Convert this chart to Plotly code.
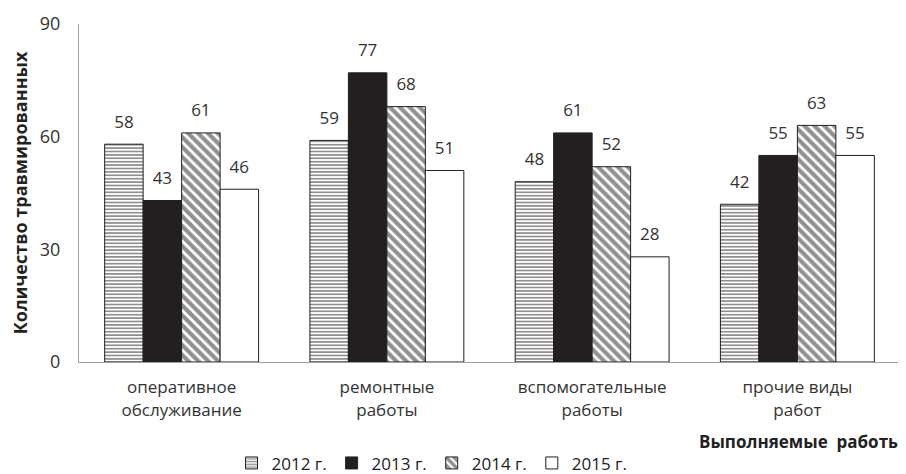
import plotly.graph_objects as go

categories = ["оперативное<br>обслуживание", "ремонтные<br>работы", "вспомогательные<br>работы", "прочие виды<br>работ"]
years = ["2012 г.", "2013 г.", "2014 г.", "2015 г."]
v2012 = [58, 59, 48, 42]
v2013 = [43, 77, 61, 55]
v2014 = [61, 68, 52, 63]
v2015 = [46, 51, 28, 55]

dark = "#231f20"
font = "Open Sans"
styles = [
    dict(color="white", pattern=dict(shape="-", fgcolor=dark, bgcolor="white", size=3.4, solidity=0.5)),
    dict(color=dark),
    dict(color="white", pattern=dict(shape="\\", fgcolor=dark, bgcolor="white", size=7, solidity=0.6)),
    dict(color="white"),
]

fig = go.Figure()
for i, (name, vals, st) in enumerate(zip(years, [v2012, v2013, v2014, v2015], styles)):
    marker = dict(color=st["color"], line=dict(color=dark, width=1))
    if "pattern" in st:
        marker["pattern"] = st["pattern"]
    fig.add_trace(go.Bar(
        x=categories, y=vals, name=name, marker=marker, offsetgroup=str(i),
    ))
for i, vals in enumerate([v2012, v2013, v2014, v2015]):
    fig.add_trace(go.Scatter(
        x=categories, y=vals, mode="markers+text", text=[str(v) for v in vals],
        textposition="top center", offsetgroup=str(i), showlegend=False, hoverinfo="skip",
        marker=dict(size=18, opacity=0),
        textfont=dict(family=font, size=17, color="#333333"), cliponaxis=False,
    ))

# page body adds an 8px margin, so the figure is sized/offset to compensate
fig.update_layout(
    width=898, height=466,
    margin=dict(l=71, r=6, t=16, b=112, autoexpand=False),
    paper_bgcolor="white", plot_bgcolor="white",
    barmode="group", bargap=0.25, bargroupgap=0,
    scattermode="group", scattergap=0.25,
    font=dict(family=font, size=16, color="#333333"),
    showlegend=True,
    legend=dict(orientation="h", x=0.43, xanchor="center", y=-0.30, yanchor="middle",
                font=dict(family=font, size=17, color="#222222"), itemwidth=30,
                tracegroupgap=0),
    annotations=[dict(text="<b>Выполняемые  работы</b>", xref="paper", yref="paper",
                      x=1.006, y=-0.234, xanchor="right", yanchor="middle", showarrow=False,
                      font=dict(family=font, size=17, color="#222222"))],
)
fig.update_yaxes(range=[0, 90], tickvals=[0, 30, 60, 90], showgrid=False, zeroline=False,
                 showline=True, linecolor="#a0a0a0", linewidth=1, ticks="", automargin=False,
                 ticklabelstandoff=14,
                 tickfont=dict(family=font, size=18, color="#333333"),
                 title=dict(text="<b>Количество травмированных</b>", standoff=10,
                            font=dict(family=font, size=18, color="#222222")))
fig.update_xaxes(showline=True, linecolor="#a0a0a0", linewidth=1, ticks="", automargin=False,
                 ticklabelstandoff=10,
                 tickfont=dict(family=font, size=17, color="#333333"))

fig.write_html("out.html")
